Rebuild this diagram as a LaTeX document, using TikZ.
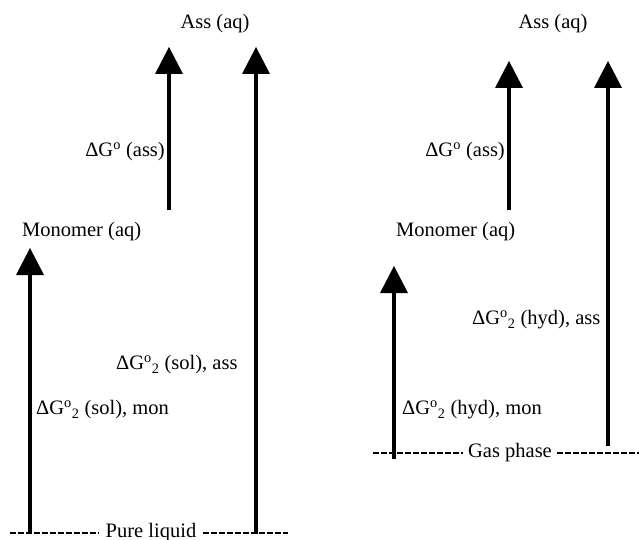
\documentclass[tikz,border=0pt]{standalone}
\usepackage{fontspec}
\setmainfont{Liberation Serif}
\usetikzlibrary{arrows.meta}
\begin{document}
\begin{tikzpicture}[x=1pt,y=-1pt,
  txt/.style={inner sep=0pt,font=\fontsize{20.5}{24}\selectfont},
  uparrow/.style={line width=3.6pt,-{Triangle[width=28pt,length=27pt,line width=0pt]}},
  phase/.style={line width=1.1pt,dash pattern=on 5.5pt off 2.5pt}]
\useasboundingbox (0,0) rectangle (639,540);
% ---- left panel ----
\node[txt] (assL) at (215,24) {Ass (aq)};
\node[txt,anchor=west] (monL) at (22,232) {Monomer (aq)};
\coordinate (a1bL) at (169,210);
\coordinate (a1tL) at (169,47);
\coordinate (a2bL) at (256,534);
\coordinate (a2tL) at (256,47);
\coordinate (a3bL) at (30,534);
\coordinate (a3tL) at (30,248);
\draw[uparrow] (a1bL) -- (a1tL);
\draw[uparrow] (a2bL) -- (a2tL);
\draw[uparrow] (a3bL) -- (a3tL);
\node[txt,anchor=east] (lab1L) at (165,152) {ΔG\textsuperscript{o} (ass)};
\node[txt,anchor=west] (lab2L) at (116,365) {ΔG\textsuperscript{o}\textsubscript{2} (sol), ass};
\node[txt,anchor=west] (lab3L) at (36,410) {ΔG\textsuperscript{o}\textsubscript{2} (sol), mon};
\node[txt] (pure) at (151,533) {Pure liquid};
\coordinate (pl0) at (10,533);
\coordinate (pl1) at (288,533);
\draw[phase] (pl0) -- ([xshift=-7pt]pure.west);
\draw[phase] ([xshift=7pt]pure.east) -- (pl1);
% ---- right panel ----
\node[txt] (assR) at (553,24) {Ass (aq)};
\node[txt,anchor=west] (monR) at (396,232) {Monomer (aq)};
\coordinate (a1bR) at (509,210);
\coordinate (a1tR) at (509,61);
\coordinate (a2bR) at (608,446);
\coordinate (a2tR) at (608,61);
\coordinate (a3bR) at (394,459);
\coordinate (a3tR) at (394,266);
\draw[uparrow] (a1bR) -- (a1tR);
\draw[uparrow] (a2bR) -- (a2tR);
\draw[uparrow] (a3bR) -- (a3tR);
\node[txt,anchor=east] (lab1R) at (505,152) {ΔG\textsuperscript{o} (ass)};
\node[txt,anchor=west] (lab2R) at (472,320) {ΔG\textsuperscript{o}\textsubscript{2} (hyd), ass};
\node[txt,anchor=west] (lab3R) at (402,410) {ΔG\textsuperscript{o}\textsubscript{2} (hyd), mon};
\node[txt] (gas) at (510,453) {Gas phase};
\coordinate (gp0) at (373,453);
\coordinate (gp1) at (639,453);
\draw[phase] (gp0) -- ([xshift=-5pt]gas.west);
\draw[phase] ([xshift=5pt]gas.east) -- (gp1);
\end{tikzpicture}
\end{document}
